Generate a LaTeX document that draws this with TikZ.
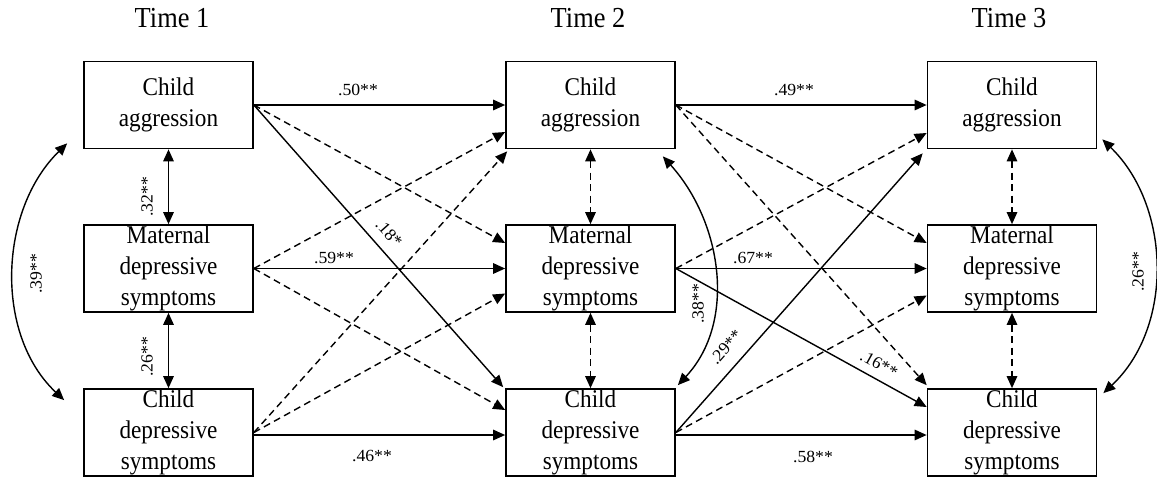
\documentclass[tikz,border=0pt]{standalone}
\usepackage{fontspec}
\setmainfont{Liberation Serif}
\newfontfamily\boxfont[FakeStretch=0.91]{Liberation Serif}
\newfontfamily\lblfont[FakeStretch=1.04]{Liberation Serif}
\usetikzlibrary{arrows.meta,calc}
\begin{document}
\begin{tikzpicture}[x=1pt,y=-1pt,
  box/.style={draw, line width=1.7pt, minimum width=169pt, minimum height=87pt, inner sep=0pt, align=center, font=\boxfont\fontsize{25.5}{31}\selectfont},
  ttl/.style={font=\boxfont\fontsize{29}{32}\selectfont, inner sep=0pt},
  lbl/.style={font=\lblfont\fontsize{17}{19}\selectfont, inner sep=0pt},
  con/.style={line width=1.4pt, -{Triangle[length=12pt,width=10.5pt]}},
  dcon/.style={con, dash pattern=on 7pt off 4.5pt},
  bi/.style={line width=1.4pt, {Triangle[length=12pt,width=10.5pt]}-{Triangle[length=12pt,width=10.5pt]}},
  dbi/.style={bi, dash pattern=on 7pt off 4.5pt}]
\useasboundingbox (0,0) rectangle (1157,483);
\fill[white] (0,0) rectangle (1157,483);

% titles
\node[ttl] (t1) at (172,18.5) {Time 1};
\node[ttl] (t2) at (588,18.5) {Time 2};
\node[ttl] (t3) at (1009,18.5) {Time 3};

% boxes
\node[box] (a1) at (168.5,105) {Child\\aggression};
\node[box] (m1) at (168.5,268.5) {Maternal\\depressive\\symptoms};
\node[box] (c1) at (168.5,432.5) {Child\\depressive\\symptoms};
\node[box] (a2) at (590.5,105) {Child\\aggression};
\node[box] (m2) at (590.5,268.5) {Maternal\\depressive\\symptoms};
\node[box] (c2) at (590.5,432.5) {Child\\depressive\\symptoms};
\node[box] (a3) at (1012,105) {Child\\aggression};
\node[box] (m3) at (1012,268.5) {Maternal\\depressive\\symptoms};
\node[box] (c3) at (1012,432.5) {Child\\depressive\\symptoms};

% Time 1 -> Time 2
\draw[con] (a1.east) -- (a2.west);
\draw[dcon] (a1.east) -- ($(m2.west)+(0,-25.5)$);
\draw[con] (a1.east) -- ($(c2.north west)+(-2,-1)$);
\draw[dcon] (m1.east) -- ($(a2.west)+(0,27)$);
\draw[con] (m1.east) -- (m2.west);
\draw[dcon] (m1.east) -- ($(c2.west)+(0,-22.5)$);
\draw[dcon] (c1.east) -- ($(m2.west)+(0,25)$);
\draw[dcon] (c1.east) -- ($(a2.south west)+(2,2)$);
\draw[con] ($(c1.east)+(0,2.5)$) -- ($(c2.west)+(0,2.5)$);

% Time 2 -> Time 3
\draw[con] (a2.east) -- (a3.west);
\draw[dcon] (a2.east) -- ($(m3.west)+(0,-25.5)$);
\draw[dcon] (a2.east) -- ($(c3.north west)+(0,-3)$);
\draw[dcon] (m2.east) -- ($(a3.west)+(0,28)$);
\draw[con] (m2.east) -- (m3.west);
\draw[con] (m2.east) -- ($(c3.west)+(0,-25.5)$);
\draw[con] (c2.east) -- ($(a3.south west)+(-4,4)$);
\draw[dcon] (c2.east) -- ($(m3.west)+(0,27)$);
\draw[con] ($(c2.east)+(0,2.5)$) -- ($(c3.west)+(0,2.5)$);

% within-time associations
\draw[bi] (a1.south) -- (m1.north);
\draw[bi] (m1.south) -- (c1.north);
\draw[dbi] (a2.south) -- (m2.north);
\draw[dbi] (m2.south) -- (c2.north);
\draw[dbi] (a3.south) -- (m3.north);
\draw[dbi] (m3.south) -- (c3.north);

% curved correlations
\coordinate (l1) at ($(a1.south west)+(-16,-6)$);
\coordinate (l2) at ($(c1.north west)+(-19,12)$);
\draw[bi] (l1) .. controls (-1,210) and (-6,334) .. (l2);
\coordinate (r1) at ($(a2.south east)+(-13,7)$);
\coordinate (r2) at ($(c2.north east)+(2,-3)$);
\draw[bi] (r1) .. controls (722,222) and (737,322) .. (r2);
\coordinate (s1) at ($(a3.south east)+(5,-10)$);
\coordinate (s2) at ($(c3.north east)+(6,5)$);
\draw[bi] (s1) .. controls (1171,206) and (1174,327) .. (s2);

% labels
\node[lbl] (L50) at (358,90) {.50**};
\node[lbl] (L59) at (334,258) {.59**};
\node[lbl] (L46) at (372,456) {.46**};
\node[lbl, rotate=-48.3] (L18) at (389,233) {.18*};
\node[lbl, rotate=90] (L32) at (147,197) {.32**};
\node[lbl, rotate=90] (L26a) at (147,357) {.26**};
\node[lbl, rotate=90] (L39) at (36,274) {.39**};
\node[lbl] (L49) at (794,90) {.49**};
\node[lbl] (L67) at (753,258) {.67**};
\node[lbl] (L58) at (813,457) {.58**};
\node[lbl, rotate=-29] (L16) at (879,364) {.16**};
\node[lbl, rotate=48.5] (L29) at (726,347) {.29**};
\node[lbl, rotate=90] (L38) at (698,304) {.38**};
\node[lbl, rotate=90] (L26b) at (1138,272) {.26**};
\end{tikzpicture}
\end{document}
